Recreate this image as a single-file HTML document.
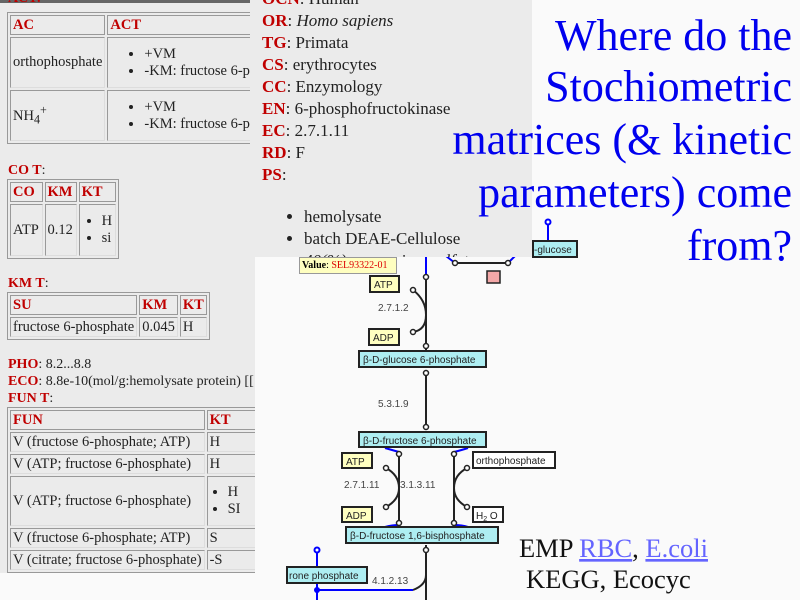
<!DOCTYPE html>
<html><head><meta charset="utf-8"><style>
body{margin:0;width:800px;height:600px;overflow:hidden;background:#fafafa;position:relative;font-family:"Liberation Serif",serif;}
.g{position:absolute;background:#ebebeb;}
.a{position:absolute;font-size:14px;color:#222;white-space:nowrap;}
.r{color:#c00000;font-weight:bold;}
table{position:absolute;border-collapse:separate;border-spacing:2px;border:1px solid #999;font-size:14.5px;color:#222;background:#ebebeb}
td{border:1px solid #999;border-right-color:#ddd;border-bottom-color:#ddd;padding:0 2px;white-space:nowrap;overflow:hidden;}
th{border:1px solid #999;text-align:left;color:#c00000;padding:0 2px;font-weight:bold}
ul{margin:0;padding-left:34px}
</style></head><body>
<div class="g" style="left:0;top:0;width:255px;height:573px;overflow:hidden">
<div style="position:absolute;left:0;top:0;width:250px;height:3px;background:#666"></div>
<div class="a r" style="left:8px;top:-9px">ACT:</div>
<table style="left:7px;top:12px;width:300px;height:132px"><tr style="height:20px"><th style="width:94px">AC</th><th>ACT</th></tr>
<tr><td>orthophosphate</td><td><ul><li>+VM</li><li>-KM: fructose 6-phosphate</li></ul></td></tr>
<tr><td>NH<sub>4</sub><sup>+</sup></td><td><ul><li>+VM</li><li>-KM: fructose 6-phosphate</li></ul></td></tr></table>
<div class="a" style="left:8px;top:163px"><span class="r">CO T</span>:</div>
<table style="left:7px;top:179px;width:112px;height:80px"><tr style="height:20px"><th>CO</th><th>KM</th><th>KT</th></tr>
<tr><td>ATP</td><td>0.12</td><td><ul style="padding-left:20px"><li>H</li><li>si</li></ul></td></tr></table>
<div class="a" style="left:8px;top:276px"><span class="r">KM T</span>:</div>
<table style="left:7px;top:292px;width:192px;height:48px"><tr><th>SU</th><th>KM</th><th>KT</th></tr>
<tr><td>fructose 6-phosphate</td><td>0.045</td><td>H</td></tr></table>
<div class="a" style="left:8px;top:357px"><span class="r">PHO</span>: 8.2...8.8</div>
<div class="a" style="left:8px;top:374px"><span class="r">ECO</span>: 8.8e-10(mol/g:hemolysate protein) [[ c</div>
<div class="a" style="left:8px;top:391px"><span class="r">FUN T</span>:</div>
<table style="left:7px;top:407px;width:280px;height:166px"><tr><th style="width:188px">FUN</th><th>KT</th></tr>
<tr><td>V (fructose 6-phosphate; ATP)</td><td>H</td></tr>
<tr><td>V (ATP; fructose 6-phosphate)</td><td>H</td></tr>
<tr style="height:50px"><td>V (ATP; fructose 6-phosphate)</td><td><ul style="padding-left:18px"><li>H</li><li>SI</li></ul></td></tr>
<tr><td>V (fructose 6-phosphate; ATP)</td><td>S</td></tr>
<tr><td>V (citrate; fructose 6-phosphate)</td><td>-S</td></tr></table>
</div>

<svg style="position:absolute;left:0;top:0" width="800" height="600" font-family="Liberation Sans, sans-serif">
<g stroke-width="2" fill="none">
<line x1="548" y1="224" x2="548" y2="241" stroke="#00f"/><circle cx="548" cy="222" r="2.5" stroke="#00f" fill="#fff"/>
<line x1="426" y1="257" x2="426" y2="276" stroke="#00f"/>
<line x1="426" y1="276" x2="426" y2="350" stroke="#222"/>
<path d="M413 290 Q426 300 426 315 Q426 330 413 332" stroke="#222"/>
<line x1="426" y1="370" x2="426" y2="430" stroke="#222"/>
<path d="M399 452 L399 525 M454 452 L454 525" stroke="#222"/>
<path d="M386 468 Q399 475 399 488 Q399 500 386 507 M467 468 Q454 475 454 488 Q454 500 467 507" stroke="#222"/>
<path d="M385 448 Q392 450 399 452 M454 452 Q462 450 468 448 M385 527 Q392 525 399 525 M454 525 Q462 525 468 527" stroke="#00f"/>
<line x1="426" y1="545" x2="426" y2="600" stroke="#222"/>
<path d="M413 590 Q426 585 426 575" stroke="#222"/>
<line x1="317" y1="552" x2="317" y2="600" stroke="#00f"/><circle cx="317" cy="550" r="2.5" stroke="#00f" fill="#fff"/>
<line x1="317" y1="590" x2="413" y2="590" stroke="#00f"/>
<line x1="456" y1="263" x2="508" y2="263" stroke="#222"/>
<path d="M446 256 L455 263 M508 263 L515 256" stroke="#00f"/>
</g>
<g fill="#fff" stroke="#222" stroke-width="1.5">
<circle cx="426" cy="277" r="2.5"/><circle cx="413" cy="290" r="2.5"/><circle cx="413" cy="332" r="2.5"/><circle cx="426" cy="346" r="2.5"/>
<circle cx="426" cy="373" r="2.5"/><circle cx="426" cy="427" r="2.5"/>
<circle cx="399" cy="454" r="2.5"/><circle cx="454" cy="454" r="2.5"/><circle cx="386" cy="468" r="2.5"/><circle cx="467" cy="468" r="2.5"/>
<circle cx="386" cy="507" r="2.5"/><circle cx="467" cy="507" r="2.5"/><circle cx="399" cy="523" r="2.5"/><circle cx="454" cy="523" r="2.5"/>
<circle cx="426" cy="550" r="2.5"/><circle cx="455" cy="263" r="2.5"/><circle cx="508" cy="263" r="2.5"/>
</g>
<circle cx="317" cy="590" r="3" fill="#00f"/>
<rect x="487" y="271" width="13" height="12" fill="#f4a8a8" stroke="#222" stroke-width="1.5"/>
<g font-size="10" fill="#222" stroke-width="2">
<rect x="370" y="276" width="29" height="16" fill="#ffffc0" stroke="#222"/><text x="374" y="288">ATP</text>
<rect x="369" y="329" width="30" height="16" fill="#ffffc0" stroke="#222"/><text x="373" y="341">ADP</text>
<rect x="342" y="453" width="30" height="15" fill="#ffffc0" stroke="#222"/><text x="346" y="465">ATP</text>
<rect x="342" y="507" width="30" height="15" fill="#ffffc0" stroke="#222"/><text x="346" y="519">ADP</text>
<rect x="473" y="452" width="82" height="16" fill="#fff" stroke="#222"/><text x="476" y="464">orthophosphate</text>
<rect x="473" y="507" width="30" height="15" fill="#fff" stroke="#222"/><text x="476" y="519">H<tspan font-size="7" dy="2">2</tspan><tspan dy="-2"> O</tspan></text>
<rect x="359" y="351" width="127" height="16" fill="#aeeef2" stroke="#222"/><text x="363" y="363">β-D-glucose 6-phosphate</text>
<rect x="359" y="432" width="127" height="15" fill="#aeeef2" stroke="#222"/><text x="363" y="444">β-D-fructose 6-phosphate</text>
<rect x="346" y="527" width="152" height="16" fill="#aeeef2" stroke="#222"/><text x="350" y="539">β-D-fructose 1,6-bisphosphate</text>
<rect x="287" y="567" width="80" height="16" fill="#aeeef2" stroke="#222"/><text x="289" y="579">rone phosphate</text>
<rect x="533" y="241" width="44" height="16" fill="#aeeef2" stroke="#222"/><text x="534" y="253">-glucose</text>
<text x="378" y="311" fill="#444">2.7.1.2</text><text x="378" y="407" fill="#444">5.3.1.9</text>
<text x="344" y="488" fill="#444">2.7.1.11</text><text x="400" y="488" fill="#444">3.1.3.11</text>
<text x="372" y="584" fill="#444">4.1.2.13</text>
</g>
<g font-family="Liberation Serif, serif" font-size="26.5" fill="#111">
<text x="519" y="557">EMP <tspan fill="#6464ff" text-decoration="underline">RBC</tspan>, <tspan fill="#6464ff" text-decoration="underline">E.coli</tspan></text>
<text x="526" y="588">KEGG, Ecocyc</text></g>
</svg>
<div class="g" style="left:250px;top:0;width:282px;height:257px;font-size:17px;color:#222;overflow:hidden">
<div style="position:absolute;left:12px;top:-12px;line-height:22px;white-space:nowrap">
<div><span class="r">OCN</span>: Human</div><div><span class="r">OR</span>: <i>Homo sapiens</i></div>
<div><span class="r">TG</span>: Primata</div><div><span class="r">CS</span>: erythrocytes</div>
<div><span class="r">CC</span>: Enzymology</div><div><span class="r">EN</span>: 6-phosphofructokinase</div>
<div><span class="r">EC</span>: 2.7.1.11</div><div><span class="r">RD</span>: F</div><div><span class="r">PS</span>:</div>
<ul style="margin-top:20px;padding-left:42px"><li>hemolysate</li><li>batch DEAE-Cellulose</li><li><i>40(%) ammonium sulfate</i></li></ul></div>
</div>
<div style="position:absolute;left:299px;top:257px;width:94px;height:15px;background:#ffffc0;border:1px solid #999;font-size:10px;line-height:15px;padding-left:2px;font-family:'Liberation Serif',serif"><b>Value</b>: <span style="color:#d00">SEL93322-01</span></div>
<svg style="position:absolute;left:0;top:0" width="800" height="600">
<g font-family="Liberation Serif, serif" font-size="44" fill="#0000ee" text-anchor="end">
<text x="792" y="50">Where do the</text><text x="792" y="101">Stochiometric</text>
<text x="792" y="154">matrices (&amp; kinetic</text><text x="792" y="207">parameters) come</text>
<text x="792" y="260">from?</text></g></svg>
</body></html>
